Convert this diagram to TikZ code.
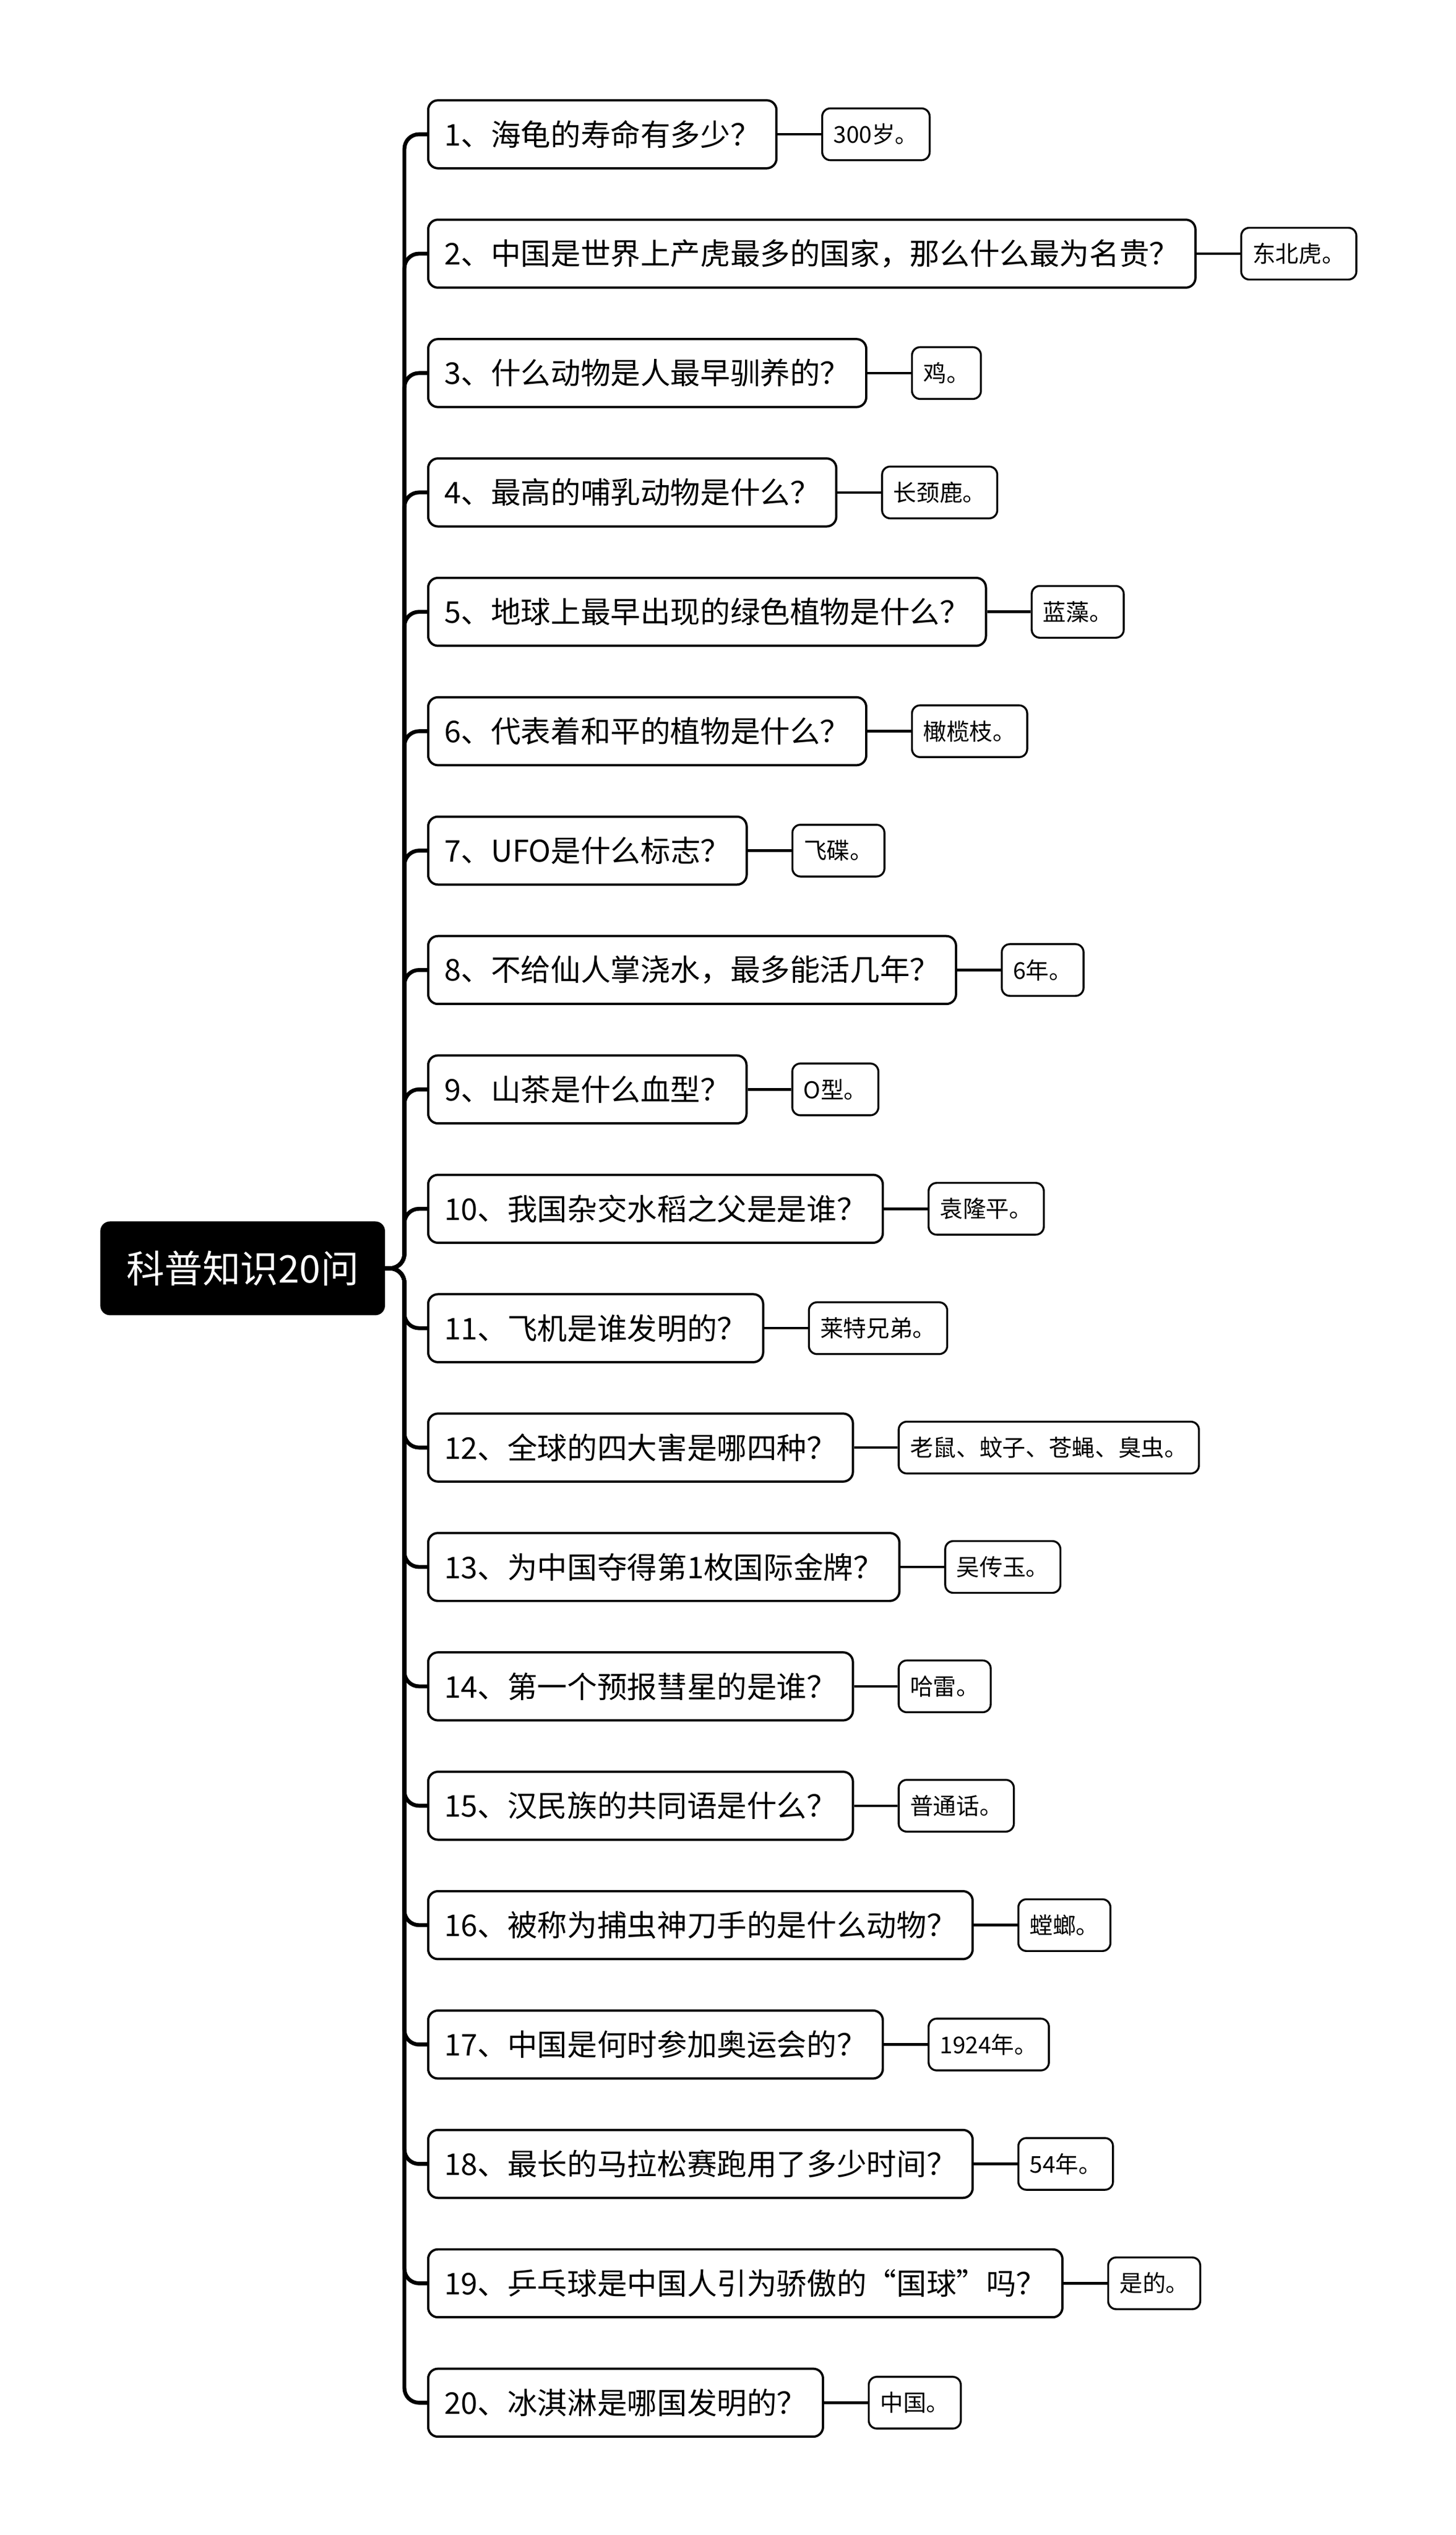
\documentclass[tikz,border=0pt]{standalone}
\usepackage{fontspec}
\setmainfont{Noto Sans CJK SC}
\begin{document}
\begin{tikzpicture}[x=1pt,y=1pt,
 qbox/.style={draw=black,line width=1.4pt,rounded corners=6pt,fill=white,minimum height=42pt,inner xsep=10pt,anchor=west,font=\fontsize{18.5}{21}\selectfont},
 abox/.style={draw=black,line width=1.2pt,rounded corners=5pt,fill=white,minimum height=32pt,inner xsep=7pt,anchor=west,font=\fontsize{14.3}{17}\selectfont},
 conn/.style={line width=2.4pt,rounded corners=9pt}]
\useasboundingbox (0,0) rectangle (900,-1567);
\node[fill=black,text=white,rounded corners=6pt,minimum width=176pt,minimum height=58pt,font=\fontsize{23.5}{27}\selectfont] (root) at (150,-784) {科普知识20问};
\coordinate (t) at (250,-784);
\foreach \i/\q/\a in {
1/{1、海龟的寿命有多少？}/{300岁。},
2/{2、中国是世界上产虎最多的国家，那么什么最为名贵？}/{东北虎。},
3/{3、什么动物是人最早驯养的？}/{鸡。},
4/{4、最高的哺乳动物是什么？}/{长颈鹿。},
5/{5、地球上最早出现的绿色植物是什么？}/{蓝藻。},
6/{6、代表着和平的植物是什么？}/{橄榄枝。},
7/{7、UFO是什么标志？}/{飞碟。},
8/{8、不给仙人掌浇水，最多能活几年？}/{6年。},
9/{9、山茶是什么血型？}/{O型。},
10/{10、我国杂交水稻之父是是谁？}/{袁隆平。},
11/{11、飞机是谁发明的？}/{莱特兄弟。},
12/{12、全球的四大害是哪四种？}/{老鼠、蚊子、苍蝇、臭虫。},
13/{13、为中国夺得第1枚国际金牌？}/{吴传玉。},
14/{14、第一个预报彗星的是谁？}/{哈雷。},
15/{15、汉民族的共同语是什么？}/{普通话。},
16/{16、被称为捕虫神刀手的是什么动物？}/{螳螂。},
17/{17、中国是何时参加奥运会的？}/{1924年。},
18/{18、最长的马拉松赛跑用了多少时间？}/{54年。},
19/{19、乒乓球是中国人引为骄傲的“国球”吗？}/{是的。},
20/{20、冰淇淋是哪国发明的？}/{中国。}}{
 \node[qbox] (q\i) at (264,{-83-(\i-1)*73.8}) {\q};
 \node[abox] (a\i) at ([xshift=27pt]q\i.east) {\a};
 \draw[line width=1.6pt] (q\i.east) -- (a\i.west);
 \draw[conn] (root.east) -- (t) |- (q\i.west);
}
\end{tikzpicture}
\end{document}
